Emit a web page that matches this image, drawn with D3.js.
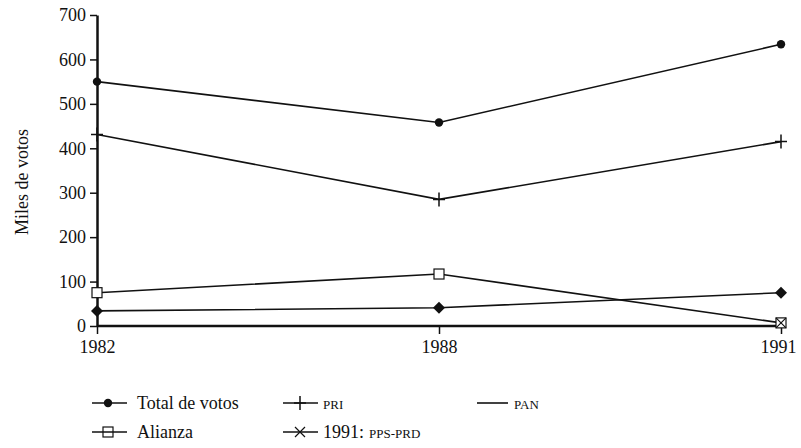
<!DOCTYPE html>
<html><head><meta charset="utf-8">
<script src="https://cdn.jsdelivr.net/npm/d3@7"></script>
<style>body{margin:0;background:#fff}svg{display:block}</style>
</head><body>
<script>
const years = ["1982","1988","1991"];
const total = [550, 458, 634];
const pri = [431, 285, 415];
const pan = [34, 41, 75];
const alianza = [75, 117, 7];
const ppsPrd = [null, null, 7];
const yTicks = [0,100,200,300,400,500,600,700];

const FONT = "Liberation Serif";
const W=801,H=448;
const svg=d3.select("body").append("svg").attr("width",W).attr("height",H)
  .attr("font-family",FONT);
const x=d3.scalePoint().domain(years).range([97,781]);
const y=d3.scaleLinear().domain([0,700]).range([326,15]);

// axes
const yAx=svg.append("g").attr("transform","translate(97,0)")
  .call(d3.axisLeft(y).tickValues(yTicks).tickSize(7).tickSizeOuter(0).tickPadding(4));
yAx.attr("font-family",FONT).attr("font-size",18);
yAx.select(".domain").attr("stroke","#111").attr("stroke-width",2.5);
yAx.selectAll(".tick line").attr("stroke","#111").attr("stroke-width",1.5);
yAx.selectAll("text").attr("font-family",FONT).attr("font-size",18).attr("fill","#111");

const xAx=svg.append("g").attr("transform","translate(0,326)")
  .call(d3.axisBottom(x).tickSize(8).tickSizeOuter(0).tickPadding(6));
xAx.attr("font-family",FONT).attr("font-size",18);
xAx.select(".domain").attr("stroke","#111").attr("stroke-width",2.5).attr("d","M97,0H786");
xAx.selectAll(".tick line").attr("stroke","#111").attr("stroke-width",1.5);
xAx.selectAll("text").attr("font-family",FONT).attr("font-size",18).attr("fill","#111");
xAx.selectAll(".tick").filter(d=>d==="1991").select("text").attr("dx",-3);

svg.append("text").attr("transform","translate(28,182) rotate(-90)")
  .attr("text-anchor","middle").attr("font-size",18).attr("font-family",FONT).attr("fill","#111").text("Miles de votos");

const line=d3.line().defined(d=>d.v!=null).x(d=>x(d.k)).y(d=>y(d.v));
function series(vals){return years.map((k,i)=>({k,v:vals[i]}));}
function drawLine(vals){
  svg.append("path").datum(series(vals)).attr("d",line)
    .attr("fill","none").attr("stroke","#111").attr("stroke-width",1.6);
}
[total,pri,pan,alianza].forEach(drawLine);

const g=svg.append("g");
function dot(cx,cy){g.append("circle").attr("cx",cx).attr("cy",cy).attr("r",4.2).attr("fill","#111");}
function plus(cx,cy){g.append("path").attr("d",`M${cx},${cy-7}V${cy+7}M${cx-6},${cy}H${cx+6}`).attr("stroke","#111").attr("stroke-width",1.5);}
function diamond(cx,cy){g.append("path").attr("d",`M${cx},${cy-6}L${cx+6},${cy}L${cx},${cy+6}L${cx-6},${cy}Z`).attr("fill","#111");}
function square(cx,cy){g.append("rect").attr("x",cx-5).attr("y",cy-5).attr("width",10).attr("height",10).attr("fill","#fff").attr("stroke","#111").attr("stroke-width",1.2);}
function cross(cx,cy){g.append("path").attr("d",`M${cx-5},${cy-5}L${cx+5},${cy+5}M${cx-5},${cy+5}L${cx+5},${cy-5}`).attr("stroke","#111").attr("stroke-width",1.2);}

series(total).forEach(d=>dot(x(d.k),y(d.v)));
series(pri).forEach(d=>plus(x(d.k),y(d.v)));
series(pan).forEach(d=>diamond(x(d.k),y(d.v)));
series(alianza).forEach(d=>square(x(d.k),y(d.v)));
series(ppsPrd).filter(d=>d.v!=null).forEach(d=>cross(x(d.k),y(d.v)));

// legend
const L=svg.append("g");
function legLine(x0,x1,yy){L.append("line").attr("x1",x0).attr("x2",x1).attr("y1",yy).attr("y2",yy).attr("stroke","#111").attr("stroke-width",1.6);}
function legText(tx,ty,parts){
  let cx=tx;
  parts.forEach(p=>{
    const t=L.append("text").attr("x",cx).attr("y",ty).attr("font-family",FONT).attr("font-size",p[1]).attr("fill","#111").text(p[0]);
    cx+=t.node().getComputedTextLength()+(p[2]||0);
  });
}
legLine(92,127,403); g.append("circle").attr("cx",108).attr("cy",403).attr("r",4.2).attr("fill","#111");
legText(137,409,[["Total de votos",18]]);
legLine(283,318,403); plus(300,403);
legText(323,409,[["PRI",13]]);
legLine(477,508,403);
legText(514,409,[["PAN",13]]);
legLine(92,127,432); square(108,432);
legText(137,438,[["Alianza",18]]);
legLine(283,318,432); cross(300,432);
legText(323,438,[["1991:",18,5],["PPS-PRD",13]]);
</script>
</body></html>
